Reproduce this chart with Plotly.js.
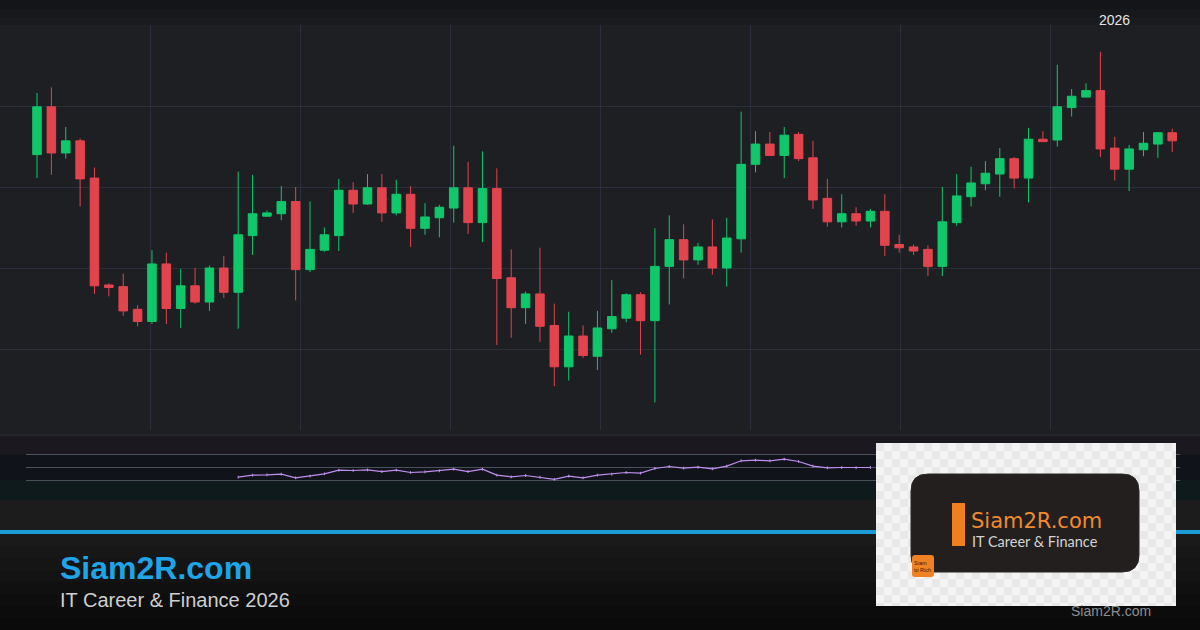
<!DOCTYPE html>
<html><head><meta charset="utf-8">
<script src="https://cdn.plot.ly/plotly-3.0.1.min.js"></script>
<style>html,body{margin:0;padding:0;background:#1c1c1c;}#chart{width:1200px;height:630px;}</style>
</head><body><div id="chart"></div>
<script>
// ---- DATA (price units) ----
const open = [
134.0,139.9,134.2,135.7,131.1,117.9,117.7,114.9,113.4,120.5,
115.0,117.8,115.8,120.0,117.0,124.0,126.4,126.7,128.2,119.8,
122.2,124.0,129.6,127.9,129.9,126.8,129.1,124.9,126.2,127.4,
129.9,125.6,129.8,118.8,115.1,116.8,112.9,107.8,111.6,109.1,
112.5,113.8,116.7,113.5,120.2,123.5,121.0,122.6,120.0,123.6,
132.8,135.3,133.9,136.5,133.6,128.6,125.7,126.7,125.8,127.0,
122.9,122.6,122.3,120.2,125.6,128.8,130.4,131.6,133.5,131.1,
135.9,135.8,139.8,141.1,141.9,134.8,132.2,134.6,135.3,136.7];
const high = [
141.6,142.3,137.4,136.0,132.4,118.1,119.3,115.4,122.2,121.9,
119.9,120.0,120.3,121.5,131.9,131.5,127.1,130.1,130.0,128.2,
125.0,131.0,130.6,131.6,131.6,130.9,130.1,128.0,127.8,135.1,
133.1,134.4,132.3,122.3,117.1,122.5,115.6,114.6,112.9,114.7,
118.5,116.9,117.0,124.9,126.5,125.4,123.1,126.0,126.2,139.3,
136.9,136.8,137.4,136.8,135.7,131.0,129.1,127.5,127.3,129.1,
124.1,122.9,122.8,130.0,131.6,132.5,133.2,134.8,133.7,137.3,
136.9,145.1,142.1,142.8,146.7,136.2,135.2,136.8,136.8,137.2];
const low = [
131.1,131.5,133.5,127.6,116.8,116.5,114.1,112.8,113.1,113.1,
112.6,115.6,114.7,116.3,112.5,121.6,126.3,125.9,116.0,119.5,
122.0,122.1,126.8,127.8,125.7,126.5,122.6,124.1,123.8,125.6,
124.2,123.2,110.5,111.4,113.1,110.9,105.4,106.1,108.9,107.4,
112.0,113.3,109.3,103.4,115.5,118.7,120.4,119.2,117.7,121.9,
131.8,133.9,131.1,133.2,127.3,125.1,125.0,125.2,125.0,121.5,
121.9,121.6,119.0,119.0,125.2,127.6,129.6,128.8,129.8,128.1,
135.6,135.0,138.7,141.1,133.7,130.8,129.5,133.8,133.6,134.3];
const close = [
139.9,134.2,135.7,131.0,117.8,117.6,114.7,113.4,120.5,115.0,
117.8,115.8,120.0,117.0,124.1,126.7,126.8,128.2,119.8,122.3,
124.1,129.6,127.9,129.9,126.8,129.1,124.9,126.3,127.5,129.9,
125.6,129.8,118.7,115.1,116.8,112.8,107.8,111.6,109.2,112.6,
114.0,116.7,113.5,120.2,123.5,121.0,122.6,120.0,123.7,132.8,
135.3,133.9,136.4,133.5,128.4,125.7,126.7,125.8,127.0,122.8,
122.5,122.1,120.2,125.7,128.9,130.5,131.7,133.5,131.1,135.9,
135.6,139.9,141.2,141.9,134.7,132.2,134.7,135.4,136.7,135.7];
// RSI line (visible part; starts at session 14, rest hidden behind logo)
const rsiStart = 14;
const rsi = [
35.1,38.2,38.7,39.7,34.1,36.7,40.3,45.9,45.4,46.4,
43.8,45.9,42.3,43.3,44.9,47.4,43.8,47.4,38.2,35.6,
37.7,35.1,31.8,36.7,34.1,38.2,39.7,42.3,41.3,48.5,
51.5,49.0,50.5,47.9,52.1,60.3,61.3,60.3,62.8,59.2,
52.1,49.5,50.0,49.5,50.0];
const rsiLevels = [70, 50, 30];
const yearLabel = '2026';
const yearAt = 75;
const brandTitle = 'Siam2R.com';
const brandSub = 'IT Career & Finance 2026';
const logoTitle = 'Siam2R.com';
const logoSub = 'IT Career & Finance';
const logoBadge = 'Siam<br>to Rich';
const watermark = 'Siam2R.com';

// ---- helpers (layout only) ----
const W = 1200, H = 630;
const px = x => x / W, py = y => 1 - y / H;
const step = 14.37, firstPx = 37;
const xRange = [-firstPx / step, (W - firstPx) / step];
const sessions = open.map((_, i) => i);
const rsiX = rsi.map((_, i) => i + rsiStart);

function rr(x0, y0, x1, y1, r) {
  const P = (x, y) => `${px(x)},${py(y)}`;
  return `M${P(x0 + r, y0)} L${P(x1 - r, y0)} Q${P(x1, y0)} ${P(x1, y0 + r)} L${P(x1, y1 - r)} Q${P(x1, y1)} ${P(x1 - r, y1)} L${P(x0 + r, y1)} Q${P(x0, y1)} ${P(x0, y1 - r)} L${P(x0, y0 + r)} Q${P(x0, y0)} ${P(x0 + r, y0)} Z`;
}
function band(y0, y1, color, layer) {
  return {type:'rect', xref:'paper', yref:'paper', x0:0, x1:1, y0:py(y1), y1:py(y0),
          fillcolor:color, line:{width:0}, layer:layer || 'below'};
}
// checkerboard path for the logo card background
function checker(x0, y0, x1, y1, s) {
  let d = '';
  for (let yy = y0, r = 0; yy < y1; yy += s, r++) {
    for (let xx = x0, c = 0; xx < x1; xx += s, c++) {
      if ((r + c) % 2) continue;
      const xe = Math.min(xx + s, x1), ye = Math.min(yy + s, y1);
      d += `M${px(xx)},${py(yy)} L${px(xe)},${py(yy)} L${px(xe)},${py(ye)} L${px(xx)},${py(ye)} Z `;
    }
  }
  return d;
}

const shapes = [];
// top strip gradient
[['#141518',0,9],['#17181b',9,17],['#1a1b1e',17,25]].forEach(b => shapes.push(band(b[1], b[2], b[0])));
// gap under the price pane
shapes.push(band(430, 435, '#1e1f22'));
// RSI pane bands
shapes.push({type:'rect', xref:'paper', yref:'y2', x0:0, x1:1, y0:70, y1:100, fillcolor:'#1c1820', line:{width:0}, layer:'below'});
shapes.push({type:'rect', xref:'paper', yref:'y2', x0:0, x1:1, y0:30, y1:70, fillcolor:'#11131a', line:{width:0}, layer:'below'});
shapes.push({type:'rect', xref:'paper', yref:'y2', x0:0, x1:1, y0:0, y1:30, fillcolor:'#0f1a1c', line:{width:0}, layer:'below'});
shapes.push({type:'line', xref:'paper', yref:'paper', x0:0, x1:1, y0:py(435), y1:py(435), line:{color:'#2e313a', width:1}, layer:'below'});
rsiLevels.forEach(v => shapes.push({type:'line', xref:'paper', yref:'y2', x0:px(26), x1:px(1180), y0:v, y1:v,
  line:{color:'#4b505b', width:1}, layer:'below'}));
// blue divider
shapes.push(band(530, 534, '#1b9bd8'));
// footer gradient
const fcols = ['#1a1a1a','#171717','#151515','#131313','#101010','#0e0e0e','#0c0c0c','#0a0a0a'];
fcols.forEach((c, i) => shapes.push(band(534 + i * 12, 534 + (i + 1) * 12, c)));
// logo card
shapes.push({type:'rect', xref:'paper', yref:'paper', x0:px(876), x1:px(1176), y0:py(606), y1:py(443),
  fillcolor:'#f4f4f4', line:{width:0}, layer:'above'});
shapes.push({type:'path', xref:'paper', yref:'paper', path:checker(876, 443, 1176, 606, 8),
  fillcolor:'#e8e8e8', line:{width:0}, layer:'above'});
shapes.push({type:'path', xref:'paper', yref:'paper', path:rr(911, 474, 1139, 572, 17),
  fillcolor:'#231f1e', line:{color:'#2b2826', width:1}, layer:'above'});
shapes.push({type:'rect', xref:'paper', yref:'paper', x0:px(952), x1:px(965), y0:py(546), y1:py(503),
  fillcolor:'#f07f1f', line:{width:0}, layer:'above'});
shapes.push({type:'path', xref:'paper', yref:'paper', path:rr(912, 555, 934, 577, 3),
  fillcolor:'#f08224', line:{width:0}, layer:'above'});

const annotations = [
  {text:yearLabel, xref:'x', yref:'paper', x:yearAt, y:py(20), showarrow:false, xanchor:'center', yanchor:'middle',
   font:{family:'Liberation Sans, Arial, sans-serif', size:14, color:'#e4e4e4'}},
  {text:'<b>' + brandTitle + '</b>', xref:'paper', yref:'paper', x:px(58), y:py(567.5), showarrow:false, xanchor:'left', yanchor:'middle',
   font:{family:'Liberation Sans, Arial, sans-serif', size:32, color:'#1fa4e8'}},
  {text:brandSub, xref:'paper', yref:'paper', x:px(58), y:py(600), showarrow:false, xanchor:'left', yanchor:'middle',
   font:{family:'Liberation Sans, Arial, sans-serif', size:20, color:'#cfcfcf'}},
  {text:logoTitle, xref:'paper', yref:'paper', x:px(969), y:py(521), showarrow:false, xanchor:'left', yanchor:'middle',
   font:{family:'DejaVu Sans, sans-serif', size:21, color:'#f08a2e'}},
  {text:logoSub, xref:'paper', yref:'paper', x:px(970), y:py(541), showarrow:false, xanchor:'left', yanchor:'middle',
   font:{family:'Lato, Open Sans, sans-serif', size:14.5, color:'#d4d4d4'}},
  {text:logoBadge, xref:'paper', yref:'paper', x:px(912), y:py(566), showarrow:false, xanchor:'left', yanchor:'middle', align:'left',
   font:{family:'Liberation Sans, Arial, sans-serif', size:5.5, color:'#3a1c05'}},
  {text:watermark, xref:'paper', yref:'paper', x:px(1069), y:py(610.5), showarrow:false, xanchor:'left', yanchor:'middle',
   font:{family:'Liberation Sans, Arial, sans-serif', size:14, color:'#8e8e8e'}}
];

const traces = [
  {type:'candlestick', x:sessions, open:open, high:high, low:low, close:close, xaxis:'x', yaxis:'y',
   increasing:{line:{color:'#10c76b', width:1}, fillcolor:'#10c76b'},
   decreasing:{line:{color:'#e2444e', width:1}, fillcolor:'#e2444e'},
   whiskerwidth:0, hoverinfo:'skip'},
  {type:'scatter', mode:'lines+markers', x:rsiX, y:rsi, xaxis:'x2', yaxis:'y2',
   line:{color:'#bf8fee', width:1.2}, marker:{symbol:'line-ns-open', size:2, line:{color:'#bf8fee', width:1}},
   hoverinfo:'skip'}
];

const layout = {
  width:W, height:H, margin:{l:0, r:0, t:0, b:0},
  paper_bgcolor:'#1c1c1c', plot_bgcolor:'#1e1f22',
  showlegend:false, boxgap:0.15, hovermode:false,
  xaxis:{range:xRange, domain:[0,1], anchor:'y', rangeslider:{visible:false},
         showticklabels:false, ticks:'', showgrid:true, gridcolor:'#2a2f3b', gridwidth:1,
         tick0:(150 - firstPx) / step, dtick:150 / step, zeroline:false, showline:false},
  yaxis:{range:[100,150], domain:[py(430), py(25)], anchor:'x', tick0:100, dtick:10,
         showgrid:true, gridcolor:'#2a2f3b', gridwidth:1, showticklabels:false, ticks:'', zeroline:false, showline:false},
  xaxis2:{range:xRange, domain:[0,1], anchor:'y2', visible:false, showgrid:false},
  yaxis2:{range:[0,100], domain:[py(500), py(435)], anchor:'x2', visible:false, showgrid:false},
  shapes:shapes, annotations:annotations
};

Plotly.newPlot('chart', traces, layout, {staticPlot:true, displayModeBar:false});
</script>
</body></html>
